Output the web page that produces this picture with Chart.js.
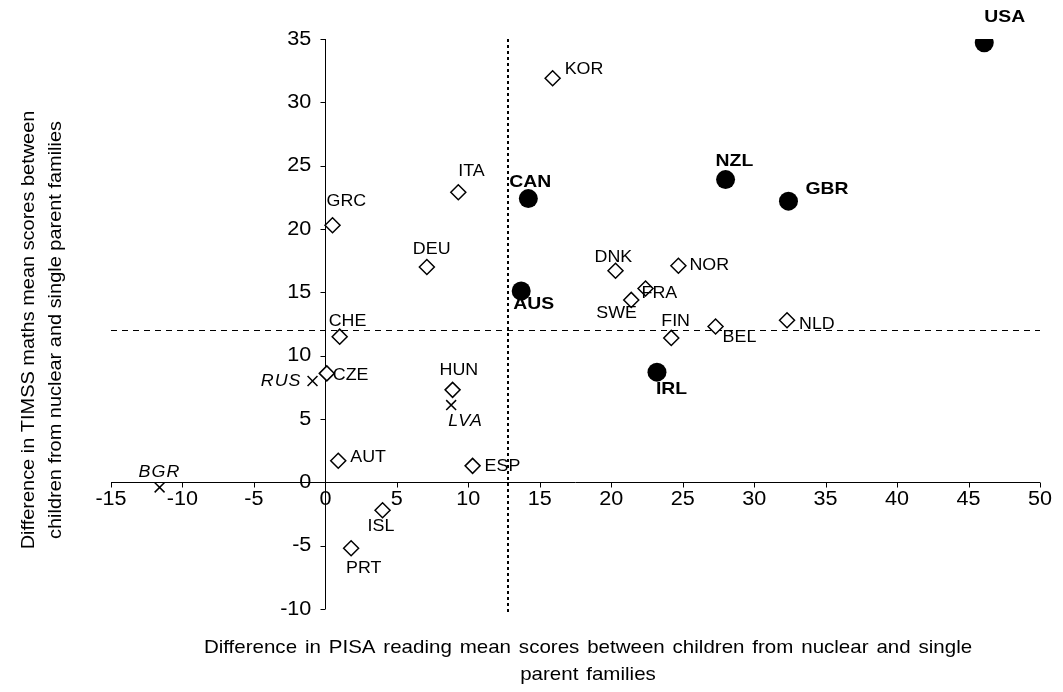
<!DOCTYPE html>
<html>
<head>
<meta charset="utf-8">
<script src="https://cdn.jsdelivr.net/npm/chart.js@4.4.1/dist/chart.umd.min.js"></script>
<style>
  body { margin: 0; background: #fff; }
  #wrap { width: 1063px; height: 692px; position: relative; }
</style>
</head>
<body>
<div id="wrap"><canvas id="scatter"></canvas></div>
<script>
// bold labels, filled circles
var circleNames = ["USA", "NZL", "GBR", "CAN", "AUS", "IRL"];
var circleX = [46.1, 28.0, 32.4, 14.2, 13.7, 23.2];
var circleY = [34.7, 23.9, 22.2, 22.4, 15.1, 8.7];

// plain labels, open diamonds
var diamondNames = ["KOR", "ITA", "GRC", "DEU", "CHE", "DNK", "NOR", "FRA", "SWE", "FIN", "BEL", "NLD", "CZE", "HUN", "AUT", "ESP", "ISL", "PRT"];
var diamondX = [15.9, 9.3, 0.5, 7.1, 1.0, 20.3, 24.7, 22.4, 21.4, 24.2, 27.3, 32.3, 0.1, 8.9, 0.9, 10.3, 4.0, 1.8];
var diamondY = [31.9, 22.9, 20.3, 17.0, 11.5, 16.7, 17.1, 15.3, 14.4, 11.4, 12.3, 12.8, 8.6, 7.3, 1.7, 1.3, -2.2, -5.2];

// italic labels, crosses
var crossNames = ["RUS", "LVA", "BGR"];
var crossX = [-0.9, 8.8, -11.6];
var crossY = [8.0, 6.1, -0.4];

var xTicks = [-15, -10, -5, 0, 5, 10, 15, 20, 25, 30, 35, 40, 45, 50];
var yTicks = [-10, -5, 0, 5, 10, 15, 20, 25, 30, 35];

var refX = 12.8;   // dotted vertical line
var refY = 12;     // dashed horizontal line

var xTitle = ["Difference in PISA reading mean scores between children from nuclear and single", "parent families"];
var yTitle = ["Difference in TIMSS maths mean scores between", "children from nuclear and single parent families"];

// where each label sits relative to its marker: [dx, dy, align]
var labelPos = {
  USA: [0, -25, "left"], NZL: [-10, -18, "left"], GBR: [17, -12, "left"],
  CAN: [-19, -16, "left"], AUS: [-8, 13, "left"], IRL: [-1, 17, "left"],
  KOR: [12, -9, "left"], ITA: [0, -21, "left"], GRC: [-6, -24, "left"],
  DEU: [-14, -18, "left"], CHE: [-11, -15, "left"], DNK: [-21, -13, "left"],
  NOR: [11, 0, "left"], FRA: [-4, 5, "left"], SWE: [-35, 13, "left"],
  FIN: [-10, -17, "left"], BEL: [7, 11, "left"], NLD: [12, 4, "left"],
  CZE: [6, 2, "left"], HUN: [-13, -20, "left"], AUT: [12, -3, "left"],
  ESP: [12, 0, "left"], ISL: [-15, 16, "left"], PRT: [-5, 20, "left"],
  RUS: [-11, 0, "right"], LVA: [-3, 16, "left"], BGR: [-21, -15, "left"]
};

function toPoints(xs, ys) {
  var pts = [];
  for (var i = 0; i < xs.length; i++) {
    pts.push({ x: xs[i], y: ys[i] });
  }
  return pts;
}

function drawText(ctx, s, x, y, font, align, sx) {
  ctx.save();
  ctx.font = font;
  ctx.textAlign = align;
  ctx.textBaseline = "middle";
  ctx.fillStyle = "#000";
  ctx.translate(x, y);
  ctx.scale(sx || 1, 1);
  ctx.fillText(s, 0, 0);
  ctx.restore();
}

var axesPlugin = {
  id: "crossAxes",
  beforeDatasetsDraw: function(chart) {
    var ctx = chart.ctx;
    var xs = chart.scales.x, ys = chart.scales.y;
    var area = chart.chartArea;
    var x0 = xs.getPixelForValue(0);
    var y0 = ys.getPixelForValue(0);

    ctx.save();
    ctx.strokeStyle = "#000";

    // reference lines
    ctx.lineWidth = 1;
    ctx.setLineDash([6, 5]);
    var hy = Math.round(ys.getPixelForValue(refY)) + 0.5;
    ctx.beginPath();
    ctx.moveTo(area.left, hy);
    ctx.lineTo(area.right, hy);
    ctx.stroke();

    ctx.lineWidth = 2;
    ctx.setLineDash([3, 3]);
    var vx = Math.round(xs.getPixelForValue(refX));
    ctx.beginPath();
    ctx.moveTo(vx, area.top);
    ctx.lineTo(vx, area.bottom + 3);
    ctx.stroke();

    // axes crossing at zero
    ctx.setLineDash([]);
    ctx.lineWidth = 1;
    var ay = Math.round(y0) + 0.5;
    var ax = Math.round(x0) + 0.5;
    ctx.beginPath();
    ctx.moveTo(area.left, ay);
    ctx.lineTo(area.right, ay);
    ctx.moveTo(ax, area.top);
    ctx.lineTo(ax, area.bottom);
    xTicks.forEach(function(v) {
      var px = Math.round(xs.getPixelForValue(v)) + 0.5;
      ctx.moveTo(px, ay);
      ctx.lineTo(px, ay + 5);
    });
    yTicks.forEach(function(v) {
      var py = Math.round(ys.getPixelForValue(v)) + 0.5;
      ctx.moveTo(ax - 5, py);
      ctx.lineTo(ax, py);
    });
    ctx.stroke();
    ctx.restore();

    var tickFont = "20px 'Liberation Sans', Arial, sans-serif";
    xTicks.forEach(function(v) {
      drawText(ctx, String(v), xs.getPixelForValue(v), y0 + 17, tickFont, "center", 1.08);
    });
    yTicks.forEach(function(v) {
      drawText(ctx, String(v), x0 - 14, ys.getPixelForValue(v), tickFont, "right", 1.08);
    });

    // axis titles
    var titleFont = "19px 'Liberation Sans', Arial, sans-serif";
    ctx.save();
    ctx.wordSpacing = "2px";
    drawText(ctx, xTitle[0], 588, 648, titleFont, "center", 1.08);
    drawText(ctx, xTitle[1], 588, 675, titleFont, "center", 1.08);
    ctx.restore();
    ctx.save();
    ctx.translate(0, 330);
    ctx.rotate(-Math.PI / 2);
    drawText(ctx, yTitle[0], 0, 29, titleFont, "center", 1.05);
    drawText(ctx, yTitle[1], 0, 56, titleFont, "center", 1.05);
    ctx.restore();
  },
  afterDatasetsDraw: function(chart) {
    var ctx = chart.ctx;
    var fonts = [
      "bold 17px 'Liberation Sans', Arial, sans-serif",
      "17px 'Liberation Sans', Arial, sans-serif",
      "italic 17px 'Liberation Sans', Arial, sans-serif"
    ];
    var stretch = [1.14, 1.05, 1.05];
    var names = [circleNames, diamondNames, crossNames];
    chart.data.datasets.forEach(function(ds, di) {
      var meta = chart.getDatasetMeta(di);
      meta.data.forEach(function(pt, i) {
        var name = names[di][i];
        var p = labelPos[name] || [8, 0, "left"];
        ctx.save();
        if (di === 2) ctx.letterSpacing = "1px";
        drawText(ctx, name, pt.x + p[0], pt.y + p[1], fonts[di], p[2], stretch[di]);
        ctx.restore();
      });
    });
  }
};

var scatterChart = new Chart(document.getElementById("scatter"), {
  type: "scatter",
  data: {
    datasets: [{
      label: "circles",
      data: toPoints(circleX, circleY),
      pointStyle: "circle",
      pointRadius: 9.5,
      backgroundColor: "#000",
      borderColor: "#000",
      borderWidth: 0
    }, {
      label: "diamonds",
      data: toPoints(diamondX, diamondY),
      pointStyle: "rectRot",
      pointRadius: 7.5,
      backgroundColor: "#fff",
      borderColor: "#000",
      borderWidth: 1.5
    }, {
      label: "crosses",
      data: toPoints(crossX, crossY),
      pointStyle: "crossRot",
      pointRadius: 7,
      backgroundColor: "#000",
      borderColor: "#000",
      borderWidth: 1.5
    }]
  },
  options: {
    responsive: true,
    maintainAspectRatio: false,
    animation: false,
    events: [],
    layout: {
      padding: { left: 111, right: 23, top: 39, bottom: 83 }
    },
    plugins: {
      legend: { display: false },
      tooltip: { enabled: false }
    },
    scales: {
      x: { type: "linear", min: -15, max: 50, display: false },
      y: { type: "linear", min: -10, max: 35, display: false }
    }
  },
  plugins: [axesPlugin]
});
</script>
</body>
</html>
